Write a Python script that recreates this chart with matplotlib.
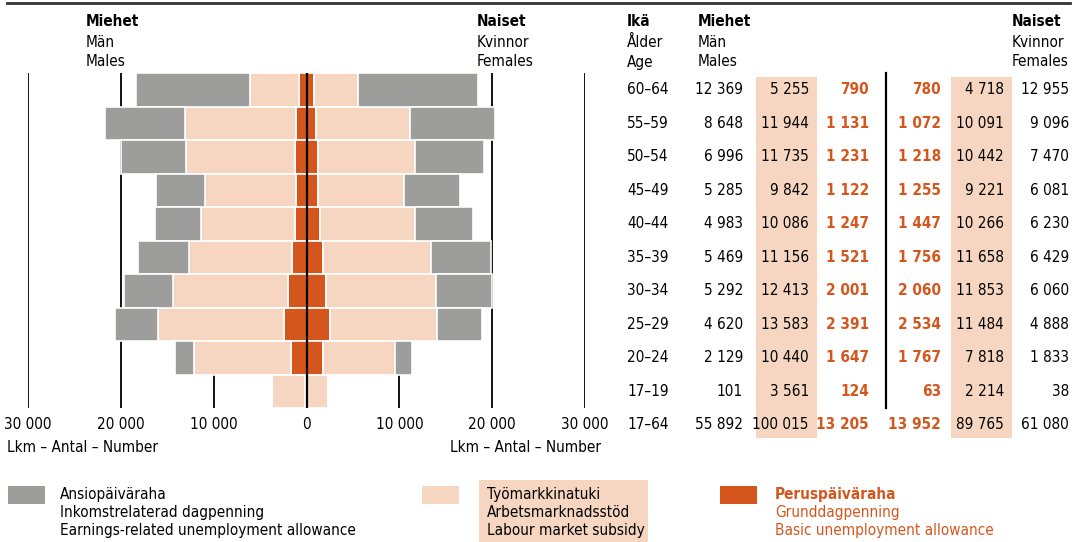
import matplotlib
matplotlib.use('Agg')
import matplotlib.pyplot as plt
import matplotlib.transforms as mtransforms
from matplotlib.patches import Rectangle
from matplotlib.lines import Line2D
import numpy as np

plt.rcParams['font.family'] = ['DejaVu Sans']
plt.rcParams['font.stretch'] = 'condensed'
plt.rcParams['font.size'] = 11

# Data
ages = ['60–64', '55–59', '50–54', '45–49', '40–44', '35–39', '30–34', '25–29', '20–24', '17–19']
total_age = '17–64'
male_ansio = [12369, 8648, 6996, 5285, 4983, 5469, 5292, 4620, 2129, 101]
male_tmt = [5255, 11944, 11735, 9842, 10086, 11156, 12413, 13583, 10440, 3561]
male_perus = [790, 1131, 1231, 1122, 1247, 1521, 2001, 2391, 1647, 124]
female_perus = [780, 1072, 1218, 1255, 1447, 1756, 2060, 2534, 1767, 63]
female_tmt = [4718, 10091, 10442, 9221, 10266, 11658, 11853, 11484, 7818, 2214]
female_ansio = [12955, 9096, 7470, 6081, 6230, 6429, 6060, 4888, 1833, 38]
male_totals = [55892, 100015, 13205]    # ansio, tmt, perus
female_totals = [13952, 89765, 61080]   # perus, tmt, ansio
ticks = [-30000, -20000, -10000, 0, 10000, 20000, 30000]

GRAY = '#9d9d9c'
PEACH = '#f6d6c1'
ORANGE = '#d5561d'

W, H = 1082, 542


def px(x, y):
    return x / W, 1 - y / H


def fmt(v):
    return f'{abs(v):,}'.replace(',', ' ')


fig = plt.figure(figsize=(W / 100, H / 100), dpi=100)
ax = fig.add_axes([28 / W, 1 - 408 / H, (585 - 28) / W, (408 - 73) / H])
ax.set_xlim(-30000, 30000)
ax.set_ylim(9.5, -0.5)
ax.axis('off')

y = np.arange(len(ages))
mp, mt, ma = np.array(male_perus), np.array(male_tmt), np.array(male_ansio)
fp, ft, fa = np.array(female_perus), np.array(female_tmt), np.array(female_ansio)
kw = dict(height=1.0, edgecolor='white', linewidth=1.2, zorder=2)
ax.barh(y, -mp, color=ORANGE, **kw)
ax.barh(y, -mt, left=-mp, color=PEACH, **kw)
ax.barh(y, -ma, left=-(mp + mt), color=GRAY, **kw)
ax.barh(y, fp, color=ORANGE, **kw)
ax.barh(y, ft, left=fp, color=PEACH, **kw)
ax.barh(y, fa, left=fp + ft, color=GRAY, **kw)

ax.vlines([t for t in ticks if t != 0], -0.5, 9.5, color='black', lw=1.3, zorder=1)
ax.vlines(0, -0.5, 9.5, color='black', lw=1.6, zorder=5)
for t in ticks:
    ax.text(t, 10, fmt(t), ha='center', va='center', clip_on=False)

fig.text(*px(7, 448), 'Lkm – Antal – Number', ha='left', va='center')
fig.text(*px(601, 448), 'Lkm – Antal – Number', ha='right', va='center')

# headers
def header(x, y0, lines, ha='left'):
    for i, s in enumerate(lines):
        fig.text(*px(x, y0 + 20 * i), s, ha=ha, va='center',
                 fontweight='bold' if i == 0 else 'normal')

header(86, 22, ['Miehet', 'Män', 'Males'])
header(477, 22, ['Naiset', 'Kvinnor', 'Females'])
header(627, 22, ['Ikä', 'Ålder', 'Age'])
header(698, 22, ['Miehet', 'Män', 'Males'])
header(1012, 22, ['Naiset', 'Kvinnor', 'Females'])

# table
tr = mtransforms.blended_transform_factory(fig.transFigure, ax.transData)
for x0, x1 in [(756, 817), (951, 1012)]:
    ax.add_patch(Rectangle((x0 / W, -0.38), (x1 - x0) / W, 10.78, transform=tr,
                           facecolor=PEACH, edgecolor='none', clip_on=False, zorder=0))
ax.add_line(Line2D([886 / W, 886 / W], [-0.5, 9.5], transform=tr, color='black',
                   lw=1.6, clip_on=False))

rows = list(zip(ages, male_ansio, male_tmt, male_perus, female_perus, female_tmt, female_ansio))
rows.append((total_age, *male_totals, *female_totals))
cols = [(743, 'k', 'normal'), (809, 'k', 'normal'), (869, ORANGE, 'bold'),
        (941, ORANGE, 'bold'), (1004, 'k', 'normal'), (1069, 'k', 'normal')]
for i, row in enumerate(rows):
    ax.text(627 / W, i, row[0], transform=tr, ha='left', va='center', clip_on=False)
    for (xr, c, fw), v in zip(cols, row[1:]):
        ax.text(xr / W, i, fmt(v), transform=tr, ha='right', va='center',
                color=c, fontweight=fw, clip_on=False)

# top rule
fig.add_artist(Line2D([7 / W, 1070 / W], [1 - 3 / H] * 2, color='#333333', lw=2))

# legend
def legend_item(x0, x1, color, tx, lines, tcolor='black', box=None):
    fig.add_artist(Rectangle(px(x0, 504), (x1 - x0) / W, 18 / H, transform=fig.transFigure,
                             facecolor=color, edgecolor='none'))
    if box:
        fig.add_artist(Rectangle(px(box[0], 542), (box[1] - box[0]) / W, 62 / H,
                                 transform=fig.transFigure, facecolor=PEACH, edgecolor='none'))
    for i, s in enumerate(lines):
        fig.text(*px(tx, 494 + 18.5 * i), s, ha='left', va='center', color=tcolor,
                 fontweight='bold' if (i == 0 and tcolor != 'black') else 'normal')

legend_item(8, 45, GRAY, 60, ['Ansiopäiväraha', 'Inkomstrelaterad dagpenning',
                              'Earnings-related unemployment allowance'])
legend_item(422, 459, PEACH, 487, ['Työmarkkinatuki', 'Arbetsmarknadsstöd',
                                   'Labour market subsidy'], box=(479, 648))
legend_item(720, 757, ORANGE, 775, ['Peruspäiväraha', 'Grunddagpenning',
                                    'Basic unemployment allowance'], tcolor=ORANGE)

fig.savefig('out.png', dpi=100)
